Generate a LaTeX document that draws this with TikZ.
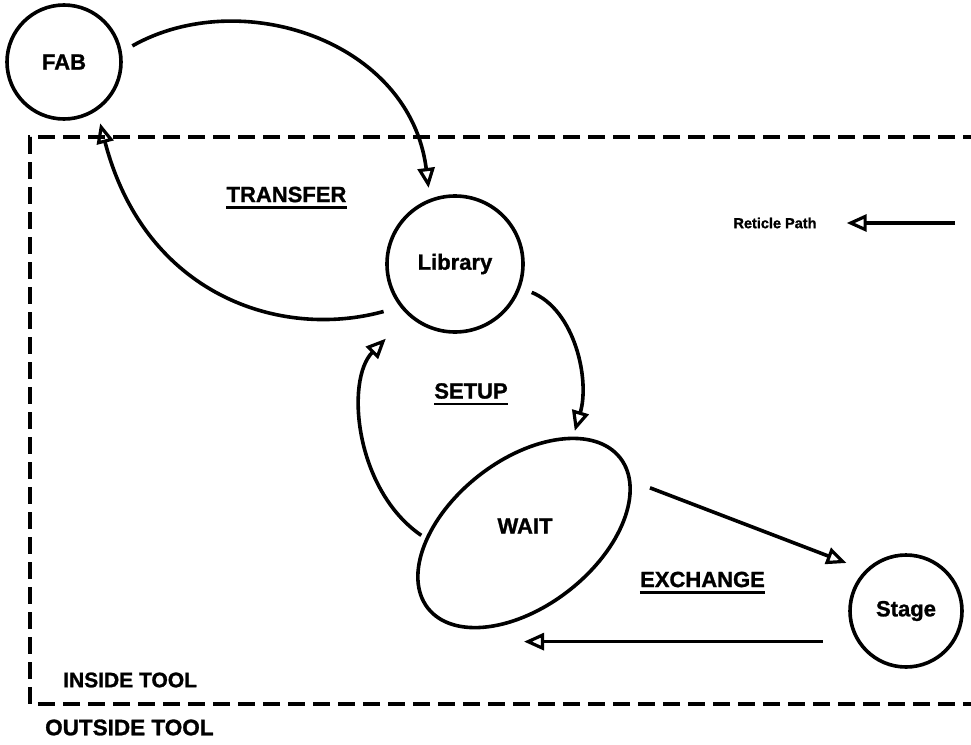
\documentclass[tikz,border=0pt]{standalone}
\usepackage{fontspec}
\setmainfont{Liberation Sans}
\newfontfamily\heavyfont[FakeBold=1.2]{Liberation Sans Bold}
\usetikzlibrary{arrows.meta,shapes.geometric}
\begin{document}
\begin{tikzpicture}[x=1pt,y=-1pt,
  state/.style={circle,draw,line width=3.6pt,inner sep=0pt,minimum size=#1,
                font=\fontsize{22}{26}\heavyfont},
  lbl/.style={font=\fontsize{22}{26}\heavyfont,inner sep=0pt},
  flow/.style={line width=3.6pt,
               -{Triangle[open,length=20pt,width=17pt,line width=3.2pt]}},
  uline/.style={line width=2.8pt},
  zone/.style={line width=3.2pt,dash pattern=on 17pt off 8pt}
]
\useasboundingbox (0,0) rectangle (971,744);

% tool boundary (open on the right)
\draw[zone] (980,137) -- (30,137) -- (30,704) -- (980,704);

% states
\node[state=114pt] (fab) at (64,62) {FAB};
\node[state=136pt] (lib) at (455,264) {Library};
\node[ellipse,draw,line width=3.6pt,inner sep=0pt,
      minimum width=244pt,minimum height=146pt,rotate=38] (wait) at (524,533) {};
\node[lbl] (waitlbl) at (525,526) {WAIT};
\node[state=112pt] (stage) at (906,611) {Stage};

% phase labels
\node[lbl] (transfer) at (286.5,194.5) {TRANSFER};
\node[lbl] (setup) at (471,391) {SETUP};
\node[lbl] (exchange) at (702.5,579.5) {EXCHANGE};
\foreach \t in {transfer,setup,exchange}
  \draw[uline] ([yshift=-5pt]\t.south west) -- ([yshift=-5pt]\t.south east);

% legend
\node[inner sep=0pt,font=\fontsize{14.5}{17}\heavyfont] (ret) at (775,223) {Reticle Path};
\coordinate (rettail) at (955,223);
\draw[flow,shorten >=30pt] (rettail) -- (ret.east);

% zone names
\node[inner sep=0pt,anchor=west,font=\fontsize{21}{25}\heavyfont] (inside) at (63,680) {INSIDE TOOL};
\node[inner sep=0pt,anchor=west,font=\fontsize{22.5}{26}\heavyfont] (outside) at (45,727.5) {OUTSIDE TOOL};

% transfer loop
\draw[flow,shorten <=12pt,shorten >=11pt]
  (fab.10) .. controls (240,-15) and (410,40) .. (lib.111);
\draw[flow,shorten <=17pt,shorten >=13pt]
  (lib.218) .. controls (280,340) and (145,295) .. (fab.304);

% setup loop
\draw[flow,shorten <=12pt,shorten >=6pt]
  (lib.-20) .. controls (575,310) and (590,380) .. (wait.25);
\draw[flow,shorten <=5pt,shorten >=32pt]
  (wait.145) .. controls (355,490) and (345,380) .. (lib.228);

% exchange
\draw[flow,shorten <=20pt,shorten >=20pt] (wait.-12) -- (stage.135.5);
\draw[flow,shorten <=34pt] (stage.212) -- (stage.212 -| wait.center);
\end{tikzpicture}
\end{document}
